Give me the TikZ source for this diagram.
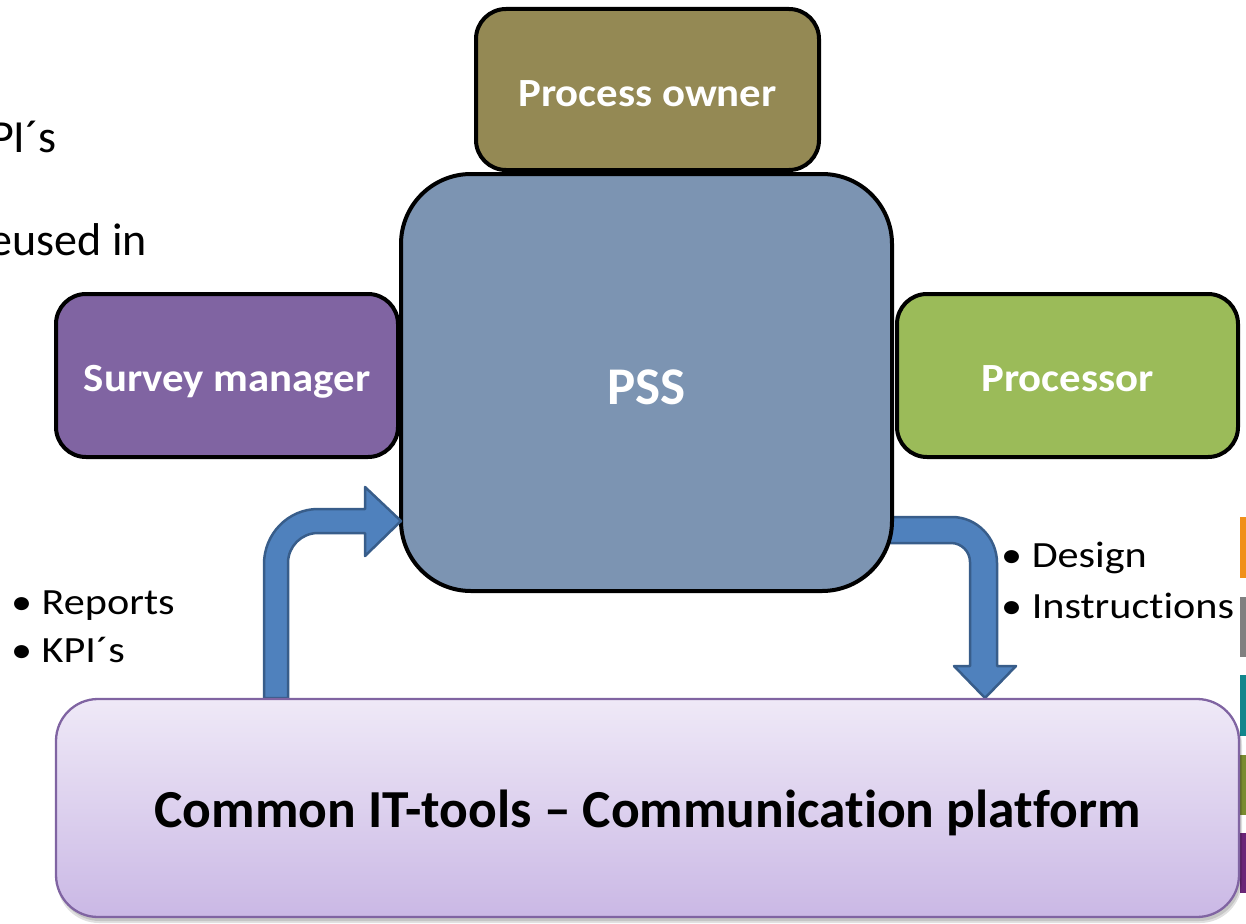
\documentclass[tikz,border=0pt]{standalone}
\usepackage{fontspec}
\setmainfont[Ligatures={NoCommon}]{Carlito}
\newfontfamily\bulletfont[Ligatures={NoCommon},FakeStretch=1.14]{Carlito}
\newfontfamily\rolefont[Ligatures={NoCommon},FakeStretch=1.07]{Carlito}
\definecolor{pssfill}{RGB}{124,148,178}
\definecolor{ownerfill}{RGB}{148,137,84}
\definecolor{surveyfill}{RGB}{128,100,162}
\definecolor{procfill}{RGB}{155,187,89}
\definecolor{arrowfill}{RGB}{79,129,189}
\definecolor{arrowline}{RGB}{56,93,138}
\definecolor{platline}{RGB}{128,100,162}
\definecolor{plattop}{RGB}{239,233,247}
\definecolor{platbot}{RGB}{202,184,229}
\definecolor{barorange}{RGB}{240,144,26}
\definecolor{bargray}{RGB}{128,128,128}
\definecolor{barteal}{RGB}{18,134,140}
\definecolor{barolive}{RGB}{122,140,48}
\definecolor{barpurple}{RGB}{106,37,119}
\begin{document}
\begin{tikzpicture}[x=1pt,y=-1pt,
  rolebox/.style={draw=black, line width=4pt, rounded corners=30pt, text=white,
    font=\rolefont\bfseries\fontsize{40}{46}\selectfont, inner sep=0pt, align=center,
    text height=25.3pt, text depth=0pt},
  blockarrow/.style={fill=arrowfill, draw=arrowline, line width=2.5pt, line join=round},
  bullettext/.style={font=\bulletfont\fontsize{37}{44}\selectfont, anchor=base west, inner sep=0pt},
  cuttext/.style={font=\fontsize{46}{52}\selectfont, anchor=base east, inner sep=0pt}]
\useasboundingbox (0,0) rectangle (1246,923);
\clip (0,0) rectangle (1246,923);

% partial texts at the top left
\node[cuttext] (kpitop) at (57,152) {PI´s};
\node[cuttext] (reused) at (147,255) {eused in};

% coloured bars at the right edge
\fill[barorange]  (1240,517) rectangle (1250,578);
\fill[bargray]    (1240,597) rectangle (1250,657);
\fill[barteal]    (1240,675) rectangle (1250,736);
\fill[barolive]   (1240,755) rectangle (1250,815);
\fill[barpurple]  (1240,833) rectangle (1250,893);

% side boxes
\node[rolebox, fill=surveyfill, minimum width=342pt, minimum height=163pt] (survey) at (227,375.5) {\raisebox{-3pt}{Survey manager}};
\node[rolebox, fill=procfill, minimum width=341pt, minimum height=163pt] (proc) at (1067.5,375.5) {\raisebox{-3pt}{Processor}};
\node[rolebox, fill=ownerfill, minimum width=343pt, minimum height=161pt] (owner) at (647.5,89.5) {\raisebox{-4pt}{Process owner}};

% right arrow (PSS -> platform), partly behind PSS
\draw[blockarrow] (870,517) -- (952,517)
  .. controls (977,517) and (997,538) .. (997,563)
  -- (997,666) -- (1016,666) -- (985,698) -- (954,666) -- (970,666)
  -- (970,562) .. controls (970,551.5) and (961.5,543) .. (951,543)
  -- (870,543) -- cycle;

% PSS
\node[rolebox, fill=pssfill, rounded corners=70pt, minimum width=491pt, minimum height=417pt,
  font=\bfseries\fontsize{53}{58}\selectfont, text height=33.5pt] (pss) at (646.5,382.5) {\raisebox{-5pt}{PSS}};

% left arrow (platform -> PSS)
\draw[blockarrow] (264,698) -- (264,564)
  .. controls (264,534) and (288,509) .. (318,509)
  -- (365,509) -- (365,487) -- (401,521) -- (365,556) -- (365,533)
  -- (318,533) .. controls (301.4,533) and (288,546.4) .. (288,563)
  -- (288,698) -- cycle;

% platform
\fill[black, opacity=0.12, rounded corners=42pt] (57,703) rectangle (1242,923);
\fill[black, opacity=0.12, rounded corners=42pt] (58,702) rectangle (1241,921);
\node[draw=platline, line width=2.3pt, rounded corners=42pt, top color=plattop, bottom color=platbot,
  minimum width=1183pt, minimum height=218pt, inner sep=0pt,
  text height=34pt, text depth=0pt,
  font=\bfseries\fontsize{53.5}{60}\selectfont] (platform) at (647.5,808) {\raisebox{-2.5pt}{Common IT-tools – Communication platform}};

% bullet texts
\node[bullettext] (rep) at (11,614) {• Reports};
\node[bullettext] (kpi) at (11,662) {• KPI´s};
\node[bullettext] (des) at (1001,567) {• Design};
\node[bullettext] (ins) at (1001,618) {• Instructions};
\end{tikzpicture}
\end{document}
